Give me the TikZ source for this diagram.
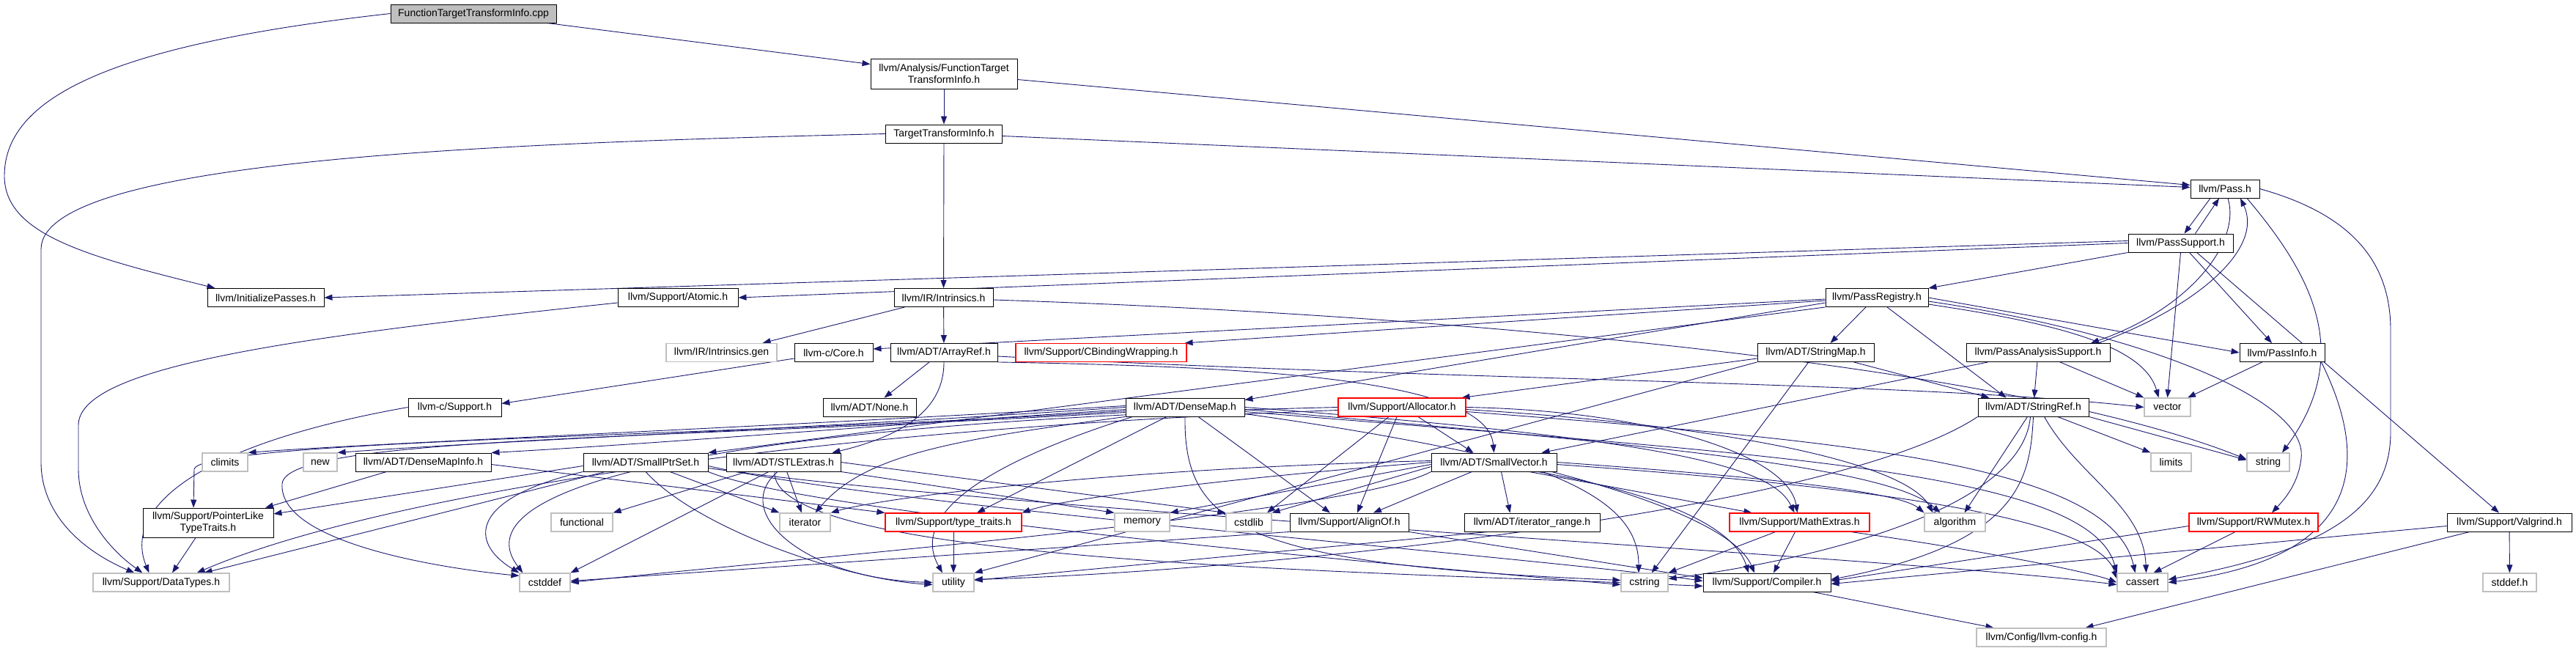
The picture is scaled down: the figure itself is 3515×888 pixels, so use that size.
\documentclass[tikz,border=0pt]{standalone}
\usepackage{fontspec}
\setmainfont{Liberation Sans}
\usetikzlibrary{arrows.meta}
\definecolor{edgeblue}{HTML}{191970}
\definecolor{grey75}{HTML}{BFBFBF}
\pgfdeclarelayer{edges}
\pgfsetlayers{edges,main}

\begin{document}
\begin{tikzpicture}[
    x=1pt, y=-1pt,
    hdr/.style={draw=black, fill=white, line width=0.9pt, minimum height=25pt, inner xsep=3pt, inner ysep=0pt, font=\fontsize{14}{16}\selectfont, align=center},
    sys/.style={hdr, draw=grey75, line width=1.2pt},
    cut/.style={hdr, draw=red, line width=1.1pt},
    src/.style={hdr, fill=grey75},
    dep/.style={-{Triangle[length=11pt,width=8pt]}, draw=edgeblue, line width=0.9pt}
  ]
    \useasboundingbox (0,0) rectangle (3515,888);

    \node[src, minimum width=226pt] (cpp) at (646,18.5) {FunctionTargetTransformInfo.cpp};
    \node[hdr, minimum width=200pt, minimum height=41pt] (fttih) at (1288,100.5) {llvm/Analysis/FunctionTarget\\TransformInfo.h};
    \node[hdr, minimum width=159pt] (ttih) at (1288,182.5) {TargetTransformInfo.h};
    \node[hdr, minimum width=94pt] (passh) at (3036,257.5) {llvm/Pass.h};
    \node[hdr, minimum width=143pt] (passsupp) at (2975.5,331.5) {llvm/PassSupport.h};
    \node[hdr, minimum width=159pt] (initp) at (362.5,406) {llvm/InitializePasses.h};
    \node[hdr, minimum width=164pt] (atomic) at (925,406) {llvm/Support/Atomic.h};
    \node[hdr, minimum width=135pt] (intrin) at (1287.5,406) {llvm/IR/Intrinsics.h};
    \node[hdr, minimum width=140pt] (passreg) at (2561,406) {llvm/PassRegistry.h};

    \node[sys, minimum width=151pt] (intringen) at (984.5,481) {llvm/IR/Intrinsics.gen};
    \node[hdr, minimum width=107pt] (corec) at (1137.5,481) {llvm-c/Core.h};
    \node[hdr, minimum width=146pt] (arrayref) at (1288,481) {llvm/ADT/ArrayRef.h};
    \node[cut, minimum width=233pt] (cbind) at (1502.5,481) {llvm/Support/CBindingWrapping.h};
    \node[hdr, minimum width=159pt] (stringmap) at (2477.5,481) {llvm/ADT/StringMap.h};
    \node[hdr, minimum width=196pt] (passanal) at (2781,481) {llvm/PassAnalysisSupport.h};
    \node[hdr, minimum width=116pt] (passinfo) at (3114,481) {llvm/PassInfo.h};

    \node[hdr, minimum width=127pt] (supportc) at (620.5,555.5) {llvm-c/Support.h};
    \node[hdr, minimum width=127pt] (none) at (1186.5,555.5) {llvm/ADT/None.h};
    \node[hdr, minimum width=162pt] (densemap) at (1617,555.5) {llvm/ADT/DenseMap.h};
    \node[cut, minimum width=174pt] (allocator) at (1913,555.5) {llvm/Support/Allocator.h};
    \node[hdr, minimum width=151pt] (stringref) at (2774.5,555.5) {llvm/ADT/StringRef.h};
    \node[sys, minimum width=63pt] (vector) at (2957.5,555.5) {vector};

    \node[sys, minimum width=62pt] (climits) at (307,630.5) {climits};
    \node[sys, minimum width=46pt] (new) at (437,630.5) {new};
    \node[hdr, minimum width=185pt] (densemapinfo) at (577.5,630.5) {llvm/ADT/DenseMapInfo.h};
    \node[hdr, minimum width=170pt] (smallptrset) at (881,630.5) {llvm/ADT/SmallPtrSet.h};
    \node[hdr, minimum width=156pt] (stlextras) at (1069,630.5) {llvm/ADT/STLExtras.h};
    \node[hdr, minimum width=171pt] (smallvector) at (2038.5,630.5) {llvm/ADT/SmallVector.h};
    \node[sys, minimum width=55pt] (limits) at (2962.5,630.5) {limits};
    \node[sys, minimum width=58pt] (string) at (3095,630.5) {string};

    \node[hdr, minimum width=178pt, minimum height=40pt] (ptrlike) at (284,713) {llvm/Support/PointerLike\\TypeTraits.h};
    \node[sys, minimum width=84pt] (functional) at (794,712.5) {functional};
    \node[sys, minimum width=69pt] (iterator) at (1098.5,712.5) {iterator};
    \node[cut, minimum width=186pt] (typetraits) at (1301,712.5) {llvm/Support/type\_traits.h};
    \node[sys, minimum width=75pt] (memory) at (1558.5,712.5) {memory};
    \node[sys, minimum width=62pt] (cstdlib) at (1704,712.5) {cstdlib};
    \node[hdr, minimum width=162pt] (alignof) at (1841,712.5) {llvm/Support/AlignOf.h};
    \node[hdr, minimum width=185pt] (iterrange) at (2090.5,712.5) {llvm/ADT/iterator\_range.h};
    \node[cut, minimum width=191pt] (mathextras) at (2455.5,712.5) {llvm/Support/MathExtras.h};
    \node[sys, minimum width=83pt] (algorithm) at (2667.5,712.5) {algorithm};
    \node[cut, minimum width=176pt] (rwmutex) at (3075,712.5) {llvm/Support/RWMutex.h};
    \node[hdr, minimum width=170pt] (valgrind) at (3424,712.5) {llvm/Support/Valgrind.h};

    \node[sys, minimum width=186pt] (datatypes) at (220,794.5) {llvm/Support/DataTypes.h};
    \node[sys, minimum width=69pt] (cstddef) at (743.5,794.5) {cstddef};
    \node[sys, minimum width=56pt] (utility) at (1301,794.5) {utility};
    \node[sys, minimum width=64pt] (cstring) at (2244,794.5) {cstring};
    \node[hdr, minimum width=174pt] (compiler) at (2411,794.5) {llvm/Support/Compiler.h};
    \node[sys, minimum width=69pt] (cassert) at (2923.5,794.5) {cassert};
    \node[sys, minimum width=73pt] (stddef) at (3424.5,794.5) {stddef.h};
    \node[sys, minimum width=177pt] (llvmconfig) at (2785.5,869.5) {llvm/Config/llvm-config.h};

    \begin{pgfonlayer}{edges}
    \fill[white] (0,0) rectangle (3515,888);

    \draw[dep] (cpp.west) .. controls (160,60) and (6,130) .. (6,240) .. controls (6,320) and (120,350) .. ([xshift=-69pt]initp.north);
    \draw[dep] ([xshift=-13pt]cpp.south east) -- ([yshift=-8pt]fttih.north west);

    \draw[dep] (fttih) -- (ttih);
    \draw[dep] ([yshift=-8pt]fttih.east) -- ([yshift=5pt]passh.west);

    \draw[dep] ([yshift=-3pt]ttih.east) -- ([yshift=2pt]passh.west);
    \draw[dep] (ttih) -- (intrin);
    \draw[dep] (ttih.west) .. controls (700,195) and (56,215) .. (56,340) -- (56,630) .. controls (56,700) and (110,750) .. ([xshift=57pt]datatypes.north west);

    \draw[dep] ([xshift=-20pt]passh.south) -- ([xshift=5pt]passsupp.north);
    \draw[dep] ([xshift=4pt]passh.south) .. controls (3058,330) and (2990,420) .. ([xshift=72pt]passanal.north);
    \draw[dep] ([xshift=30pt]passh.south) .. controls (3150,370) and (3215,480) .. ([xshift=19pt]string.north);
    \draw[dep] (passh.east) .. controls (3200,290) and (3262,350) .. (3262,450) -- (3262,590) .. controls (3262,690) and (3180,750) .. ([yshift=4pt]cassert.east);

    \draw[dep] ([xshift=20pt]passsupp.north) -- ([xshift=-8pt]passh.south);
    \draw[dep] ([yshift=3pt]passsupp.west) -- (initp.east);
    \draw[dep] (passsupp.west) -- (atomic.east);
    \draw[dep] (passsupp.south west) -- (passreg.north east);
    \draw[dep] (passsupp.south) -- (vector.north);
    \draw[dep] ([xshift=12pt]passsupp.south) -- ([xshift=-14pt]passinfo.north);
    \draw[dep] ([xshift=22pt]passsupp.south) -- ([xshift=-14pt]valgrind.north);

    \draw[dep] ([xshift=82pt]passanal.north) .. controls (2995,420) and (3090,340) .. ([xshift=21pt]passh.south);
    \draw[dep] ([xshift=30pt]passanal.south west) -- ([xshift=65pt]smallvector.north);
    \draw[dep] (passanal) -- (stringref);
    \draw[dep] ([xshift=30pt]passanal.south) -- (vector.north west);

    \draw[dep] (passinfo) -- (vector);
    \draw[dep] ([xshift=-5pt]passinfo.south east) .. controls (3230,620) and (3235,760) .. (cassert.east);

    \draw[dep] ([yshift=-2pt]passreg.west) -- ([yshift=5pt]corec.east);
    \draw[dep] ([yshift=-4pt]passreg.west) -- ([xshift=-3pt]cbind.north east);
    \draw[dep] ([yshift=-7pt]passreg.west) -- ([yshift=-3pt]densemap.north east);
    \draw[dep] (passreg.south west) -- (smallptrset.north east);
    \draw[dep] ([xshift=-15pt]passreg.south) -- ([xshift=20pt]stringmap.north);
    \draw[dep] ([xshift=14pt]passreg.south) -- ([xshift=-37pt]stringref.north);
    \draw[dep] (passreg.east) -- (passinfo.west);
    \draw[dep] ([yshift=-5pt]passreg.east) .. controls (2900,450) and (3150,540) .. (3140,625) .. controls (3136,660) and (3118,680) .. ([xshift=25pt]rwmutex.north);
    \draw[dep] ([yshift=-9pt]passreg.east) .. controls (2800,440) and (2925,470) .. ([xshift=-12pt]vector.north);

    \draw[dep] ([yshift=-7pt]atomic.west) .. controls (400,460) and (107,500) .. (107,580) -- (107,640) .. controls (107,700) and (150,750) .. ([xshift=68pt]datatypes.north west);

    \draw[dep] ([xshift=15pt]intrin.south west) -- ([xshift=-20pt]intringen.north east);
    \draw[dep] (intrin) -- (arrayref);
    \draw[dep] ([yshift=-3pt]intrin.east) .. controls (2000,430) and (2750,500) .. ([yshift=4pt]string.west);

    \draw[dep] ([yshift=-8pt]corec.west) -- ([yshift=5pt]supportc.east);
    \draw[dep] (supportc.west) .. controls (250,610) and (170,700) .. ([xshift=77pt]datatypes.north west);

    \draw[dep] ([xshift=-20pt]arrayref.south) -- ([xshift=20pt]none.north);
    \draw[dep] (arrayref.south) .. controls (1288,560) and (1230,595) .. ([xshift=-12pt]stlextras.north east);
    \draw[dep] (arrayref.south east) .. controls (1700,500) and (2030,515) .. (smallvector.north);
    \draw[dep] ([yshift=-5pt]arrayref.east) .. controls (2000,520) and (2600,520) .. (vector.west);

    \draw[dep] ([xshift=52pt]stringmap.south) -- ([xshift=-60pt]stringref.north);
    \draw[dep] ([yshift=-8pt]stringmap.west) -- ([xshift=-6pt]allocator.north east);
    \draw[dep] (stringmap) -- (cstring);
    \draw[dep] (stringmap.south west) -- (utility.north east);

    \draw[dep] ([xshift=-8pt]stringref.south) -- ([xshift=13pt]algorithm.north);
    \draw[dep] ([xshift=33pt]stringref.south) -- (limits.north west);
    \draw[dep] (stringref.south east) -- ([yshift=3pt]string.west);
    \draw[dep] ([xshift=15pt]stringref.south) .. controls (2835,650) and (2925,690) .. ([xshift=5pt]cassert.north);
    \draw[dep] (stringref.south) .. controls (2770,650) and (2760,740) .. ([yshift=4pt]compiler.east);
    \draw[dep] ([xshift=-4pt]stringref.south) .. controls (2760,690) and (2500,760) .. ([yshift=5pt]cstring.east);
    \draw[dep] (stringref.south west) .. controls (2500,700) and (1700,780) .. ([yshift=4pt]utility.east);

    \draw[dep] ([yshift=-3pt]densemap.west) .. controls (1200,580) and (900,605) .. (densemapinfo.north east);
    \draw[dep] (densemap.west) .. controls (1100,585) and (700,600) .. (new.north east);
    \draw[dep] ([yshift=2pt]densemap.west) .. controls (1000,585) and (500,605) .. (climits.north east);
    \draw[dep] ([yshift=-5pt]densemap.west) .. controls (1000,595) and (275,600) .. (265,640) -- ([xshift=-20pt]ptrlike.north);
    \draw[dep] ([yshift=-7pt]densemap.west) .. controls (900,600) and (390,595) .. (385,660) .. controls (380,740) and (600,775) .. ([yshift=-4pt]cstddef.north west);
    \draw[dep] ([xshift=18pt]densemap.south) -- ([xshift=-26pt]alignof.north);
    \draw[dep] ([xshift=-25pt]densemap.south) -- ([xshift=32pt]typetraits.north);
    \draw[dep] (densemap.south west) .. controls (1300,600) and (1180,620) .. ([xshift=14pt]iterator.north);
    \draw[dep] ([xshift=10pt]densemap.south west) .. controls (1350,630) and (1240,700) .. ([xshift=-15pt]utility.north);
    \draw[dep] (densemap.south) .. controls (1615,720) and (1700,770) .. ([yshift=3pt]cstring.west);
    \draw[dep] (densemap.east) .. controls (2300,600) and (2420,640) .. ([xshift=-7pt]mathextras.north);
    \draw[dep] ([yshift=-3pt]densemap.east) .. controls (2300,610) and (2580,640) .. ([xshift=-20pt]algorithm.north);
    \draw[dep] ([yshift=-6pt]densemap.east) .. controls (2400,620) and (2850,640) .. (cassert.north west);
    \draw[dep] ([yshift=-9pt]densemap.east) .. controls (2100,620) and (2360,700) .. ([xshift=-17pt]compiler.north);

    \draw[dep] ([xshift=22pt]allocator.south) -- ([xshift=-28pt]smallvector.north);
    \draw[dep] ([xshift=-7pt]allocator.south) -- ([xshift=11pt]alignof.north);
    \draw[dep] ([xshift=-18pt]allocator.south) -- ([xshift=25pt]cstdlib.north);
    \draw[dep] (allocator.west) .. controls (1000,575) and (620,660) .. ([xshift=5pt]cstddef.north west);
    \draw[dep] ([yshift=-4pt]allocator.west) .. controls (1000,590) and (480,690) .. ([xshift=-45pt]datatypes.north east);
    \draw[dep] (allocator.east) .. controls (2250,560) and (2440,620) .. ([xshift=-3pt]mathextras.north);
    \draw[dep] ([yshift=-3pt]allocator.east) .. controls (2350,580) and (2600,630) .. ([xshift=-30pt]algorithm.north);
    \draw[dep] ([yshift=-6pt]allocator.east) .. controls (2500,600) and (2880,630) .. ([xshift=-10pt]cassert.north);

    \draw[dep] ([xshift=10pt]smallvector.south) -- ([xshift=-30pt]iterrange.north);
    \draw[dep] ([xshift=-30pt]smallvector.south) -- ([xshift=33pt]alignof.north);
    \draw[dep] ([xshift=48pt]smallvector.south) -- ([xshift=-65pt]mathextras.north);
    \draw[dep] ([xshift=60pt]smallvector.south) .. controls (2300,680) and (2370,730) .. ([xshift=-25pt]compiler.north);
    \draw[dep] ([xshift=66pt]smallvector.south) .. controls (2200,680) and (2236,720) .. ([xshift=-8pt]cstring.north);
    \draw[dep] (smallvector.east) .. controls (2400,650) and (2590,670) .. (algorithm.north west);
    \draw[dep] ([yshift=-3pt]smallvector.east) .. controls (2500,660) and (2860,700) .. ([yshift=5pt]cassert.west);
    \draw[dep] (smallvector.west) .. controls (1700,650) and (1450,680) .. (typetraits.north east);
    \draw[dep] ([yshift=-3pt]smallvector.west) -- (memory.north east);
    \draw[dep] ([yshift=-6pt]smallvector.west) -- (cstdlib.north east);
    \draw[dep] ([yshift=2pt]smallvector.west) .. controls (1500,640) and (1200,680) .. (iterator.north east);
    \draw[dep] (smallvector.south west) .. controls (1850,700) and (1100,760) .. (cstddef.east);

    \draw[dep] ([yshift=-5pt]smallptrset.west) -- ([yshift=12pt]ptrlike.east);
    \draw[dep] ([xshift=-55pt]smallptrset.south) -- ([xshift=-35pt]datatypes.north east);
    \draw[dep] (smallptrset.south west) .. controls (640,680) and (640,740) .. (cstddef.north west);
    \draw[dep] ([xshift=33pt]smallptrset.south) -- (iterator.north west);
    \draw[dep] (smallptrset.south) .. controls (950,720) and (1150,790) .. ([yshift=-3pt]utility.west);
    \draw[dep] (smallptrset.south east) .. controls (1100,700) and (1900,770) .. ([yshift=-3pt]cstring.west);
    \draw[dep] ([yshift=-5pt]smallptrset.east) .. controls (1200,690) and (2100,760) .. ([yshift=2pt]compiler.west);
    \draw[dep] ([yshift=-8pt]smallptrset.east) .. controls (1400,700) and (2600,760) .. ([yshift=-3pt]cassert.west);

    \draw[dep] ([xshift=-50pt]stlextras.south) -- (functional.north east);
    \draw[dep] (stlextras) -- (iterator);
    \draw[dep] ([xshift=-20pt]stlextras.south) -- (cstddef.north east);
    \draw[dep] ([xshift=-8pt]stlextras.south) .. controls (995,700) and (1100,790) .. (utility.west);
    \draw[dep] (stlextras.south east) -- (memory.north west);
    \draw[dep] (stlextras.east) -- (cstdlib.north west);
    \draw[dep] ([xshift=-12pt]stlextras.south) .. controls (1050,770) and (1900,780) .. ([yshift=-5pt]compiler.west);

    \draw[dep] ([xshift=-50pt]densemapinfo.south) -- ([xshift=78pt]ptrlike.north);
    \draw[dep] ([yshift=-3pt]densemapinfo.east) -- (typetraits.north west);

    \draw[dep] ([xshift=-17pt]ptrlike.south) -- ([xshift=15pt]datatypes.north);
    \draw[dep] (typetraits) -- (utility);
    \draw[dep] (alignof.south east) -- ([yshift=6pt]compiler.west);
    \draw[dep] (alignof.south west) -- ([yshift=2pt]cstddef.east);
    \draw[dep] ([xshift=-60pt]iterrange.south) -- ([yshift=3pt]utility.east);

    \draw[dep] ([xshift=-6pt]mathextras.south) -- ([xshift=9pt]compiler.north);
    \draw[dep] ([xshift=-33pt]mathextras.south) -- (cstring.north east);
    \draw[dep] ([xshift=70pt]mathextras.south) .. controls (2700,750) and (2850,780) .. (cassert.west);

    \draw[dep] ([yshift=-5pt]rwmutex.west) -- ([yshift=2pt]compiler.east);
    \draw[dep] ([xshift=-25pt]rwmutex.south) -- ([xshift=15pt]cassert.north);

    \draw[dep] ([yshift=-5pt]valgrind.west) -- ([yshift=-2pt]compiler.east);
    \draw[dep] ([xshift=-54pt]valgrind.south) -- ([xshift=60pt]llvmconfig.north);
    \draw[dep] (valgrind) -- (stddef);

    \draw[dep] ([xshift=-25pt]compiler.south east) -- ([xshift=-65pt]llvmconfig.north);
    \end{pgfonlayer}
  \end{tikzpicture}
\end{document}
